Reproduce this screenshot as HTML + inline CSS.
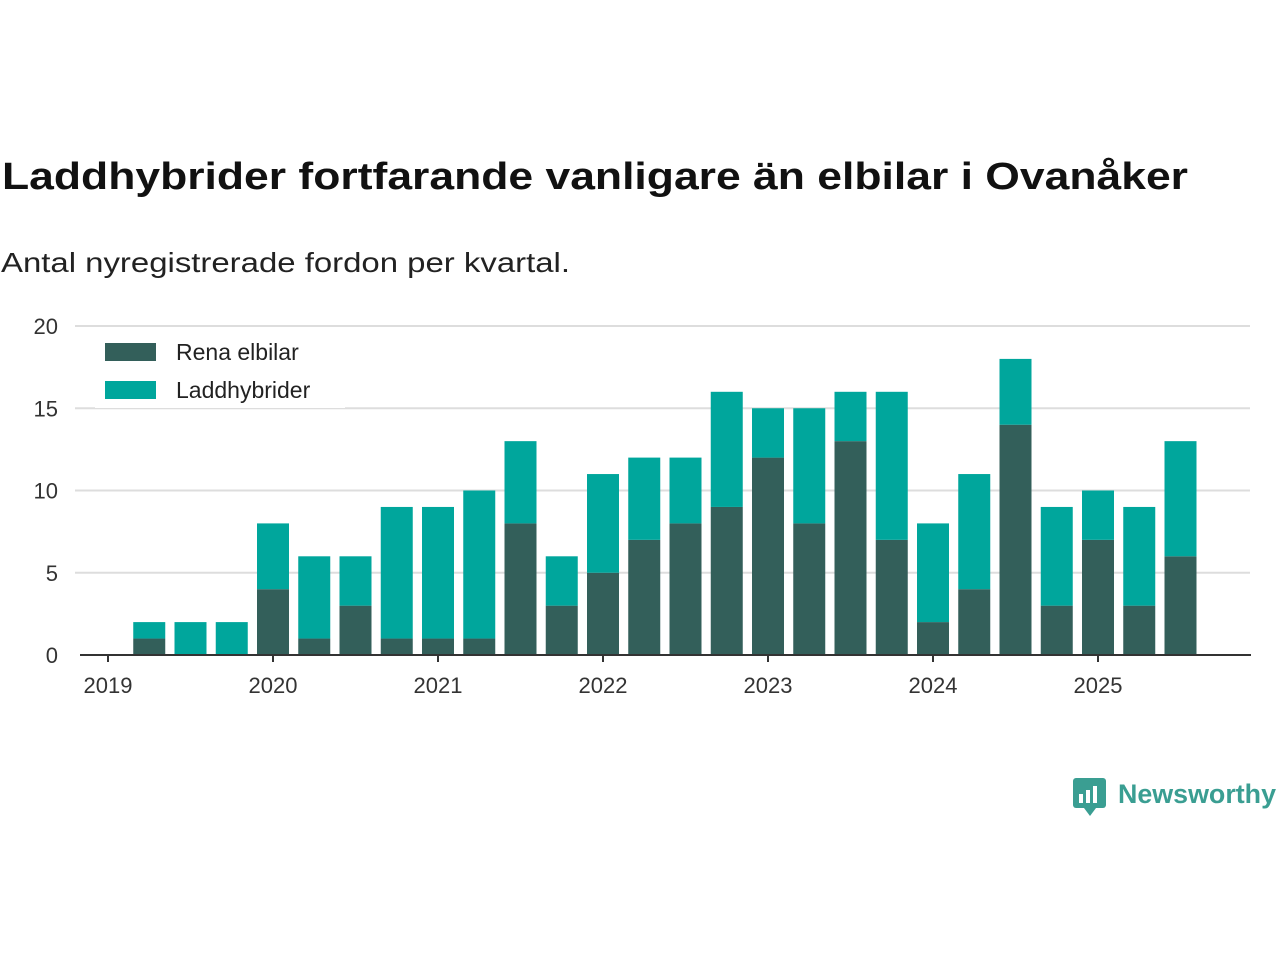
<!DOCTYPE html>
<html><head><meta charset="utf-8"><style>
html,body{margin:0;padding:0;background:#fff;}
svg{display:block;font-family:"Liberation Sans","DejaVu Sans",sans-serif;}
</style></head><body>
<svg width="1280" height="960" viewBox="0 0 1280 960">
<text x="2" y="189" font-size="38" font-weight="bold" fill="#111" textLength="1186" lengthAdjust="spacingAndGlyphs">Laddhybrider fortfarande vanligare än elbilar i Ovanåker</text>
<text x="1" y="272" font-size="28" fill="#222" textLength="569" lengthAdjust="spacingAndGlyphs">Antal nyregistrerade fordon per kvartal.</text>
<g id="grid"></g>
<g id="bars"></g>
<g id="axis"></g>
<g>
<rect x="95" y="330" width="250" height="78" fill="#fff"/>
<rect x="105" y="343" width="51" height="18" fill="#335f5a"/>
<text x="176" y="360" font-size="23" fill="#222">Rena elbilar</text>
<rect x="105" y="381" width="51" height="18" fill="#00a69c"/>
<text x="176" y="398" font-size="23" fill="#222">Laddhybrider</text>
</g>
<g>
<rect x="1073" y="778" width="33" height="30" rx="3" fill="#3a9e92"/>
<polygon points="1084,808 1096,808 1090,816" fill="#3a9e92"/>
<rect x="1079" y="794" width="4" height="9" fill="#fff"/><rect x="1086" y="790" width="4" height="13" fill="#fff"/><rect x="1093" y="786" width="4" height="17" fill="#fff"/>
<text x="1118" y="803" font-size="27" font-weight="bold" fill="#3a9e92" textLength="158" lengthAdjust="spacingAndGlyphs">Newsworthy</text>
</g>
</svg>
<script>
const quarters=[2019.25,2019.5,2019.75,2020,2020.25,2020.5,2020.75,2021,2021.25,2021.5,2021.75,2022,2022.25,2022.5,2022.75,2023,2023.25,2023.5,2023.75,2024,2024.25,2024.5,2024.75,2025,2025.25,2025.5];
const elbilar=[1,0,0,4,1,3,1,1,1,8,3,5,7,8,9,12,8,13,7,2,4,14,3,7,3,6];
const laddhybrider=[1,2,2,4,5,3,8,8,9,5,3,6,5,4,7,3,7,3,9,6,7,4,6,3,6,7];
const yTicks=[0,5,10,15,20];
const xTicks=[2019,2020,2021,2022,2023,2024,2025];
const NS="http://www.w3.org/2000/svg";
const x=v=>108+(v-2019)*165;
const y=v=>655-v*16.45;
const bw=32;
function mk(tag,attrs,parent){const e=document.createElementNS(NS,tag);for(const k in attrs)e.setAttribute(k,attrs[k]);parent.appendChild(e);return e;}
const grid=document.getElementById('grid'),bars=document.getElementById('bars'),axis=document.getElementById('axis');
yTicks.forEach(t=>{
 if(t>0){const l=mk('line',{x1:75,x2:1250,y1:y(t),y2:y(t),stroke:'#ddd','stroke-width':2},grid);
 
 }
 const tx=mk('text',{x:58,y:y(t)+8,'font-size':22,fill:'#333','text-anchor':'end'},grid);tx.textContent=t;
 
 
});
quarters.forEach((q,i)=>{
 const cx=x(q);
 const r1=mk('rect',{x:cx-bw/2,y:y(elbilar[i]),width:bw,height:y(0)-y(elbilar[i]),fill:'#335f5a'},bars);
 
 
 const top=elbilar[i]+laddhybrider[i];
 const r2=mk('rect',{x:cx-bw/2,y:y(top),width:bw,height:y(elbilar[i])-y(top),fill:'#00a69c'},bars);
 
 
});
const base=mk('line',{x1:80,x2:1251,y1:655,y2:655,stroke:'#333','stroke-width':2},axis);


xTicks.forEach(t=>{
 const tk=mk('line',{x1:x(t),x2:x(t),y1:655,y2:662,stroke:'#333','stroke-width':2},axis);
 
 
 const tx=mk('text',{x:x(t),y:693,'font-size':22,fill:'#333','text-anchor':'middle'},axis);tx.textContent=t;
 
 
});
</script>
</body></html>
